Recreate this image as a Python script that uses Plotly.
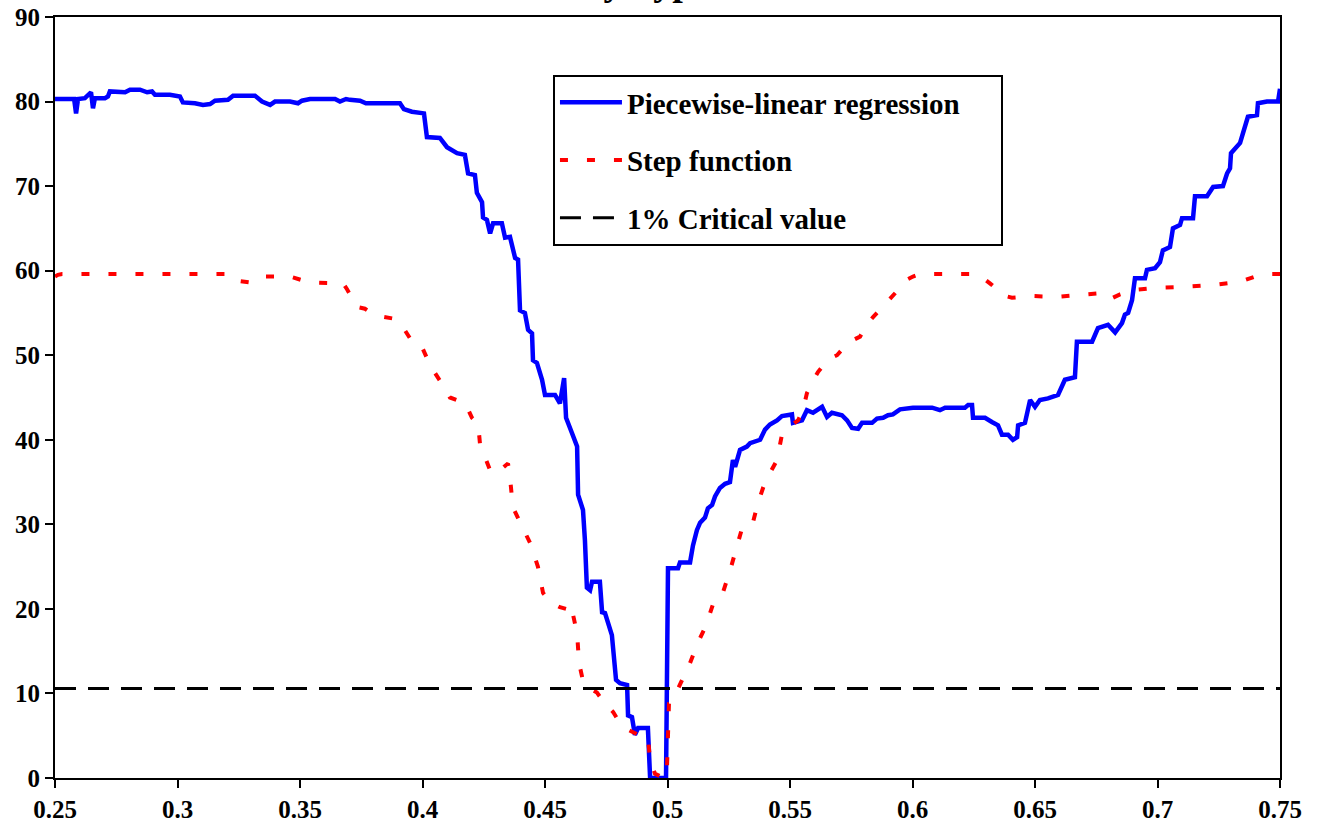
import plotly.graph_objects as go

# threshold quantile grid and LR statistics
pw_x = [0.25, 0.2561, 0.2578, 0.2586, 0.2594, 0.2622, 0.2635, 0.2647, 0.2655, 0.2663,
        0.2704, 0.2716, 0.2724, 0.2786, 0.2806, 0.2847, 0.2876, 0.2896, 0.2908, 0.2969,
        0.3010, 0.3022, 0.3071, 0.3104, 0.3133, 0.3153, 0.3206, 0.3227, 0.3316, 0.3345,
        0.3378, 0.3398, 0.3459, 0.3492, 0.3508, 0.3541, 0.3643, 0.3663, 0.3688, 0.3704,
        0.3745, 0.3769, 0.3908, 0.3924, 0.3957, 0.3990, 0.4006, 0.4018, 0.4071, 0.4100,
        0.4141, 0.4173, 0.4186, 0.4214, 0.4222, 0.4243, 0.4247, 0.4263, 0.4276, 0.4288,
        0.4324, 0.4337, 0.4357, 0.4378, 0.4390, 0.4398, 0.4418, 0.4431, 0.4447, 0.4451,
        0.4467, 0.4488, 0.4500, 0.4541, 0.4561, 0.4578, 0.4586, 0.4610, 0.4631, 0.4635,
        0.4655, 0.4663, 0.4671, 0.4684, 0.4692, 0.4724, 0.4733, 0.4745, 0.4773, 0.4790,
        0.4806, 0.4835, 0.4839, 0.4855, 0.4867, 0.4880, 0.4920, 0.4929, 0.4994, 0.5002,
        0.5043, 0.5051, 0.5092, 0.5104, 0.5120, 0.5133, 0.5153, 0.5165, 0.5182, 0.5194,
        0.5214, 0.5235, 0.5255, 0.5267, 0.5276, 0.5296, 0.5324, 0.5337, 0.5378, 0.5398,
        0.5418, 0.5447, 0.5467, 0.5508, 0.5512, 0.5549, 0.5569, 0.5594, 0.5631, 0.5651,
        0.5671, 0.5712, 0.5733, 0.5753, 0.5778, 0.5794, 0.5835, 0.5855, 0.5880, 0.5900,
        0.5920, 0.5949, 0.6002, 0.6080, 0.6112, 0.6133, 0.6214, 0.6227, 0.6243, 0.6247,
        0.6296, 0.6324, 0.6349, 0.6365, 0.6390, 0.6410, 0.6427, 0.6431, 0.6459, 0.6480,
        0.6500, 0.6520, 0.6553, 0.6594, 0.6622, 0.6663, 0.6671, 0.6733, 0.6745, 0.6757,
        0.6798, 0.6827, 0.6855, 0.6867, 0.6880, 0.6896, 0.6908, 0.6949, 0.6957, 0.6990,
        0.7010, 0.7022, 0.7051, 0.7063, 0.7092, 0.7100, 0.7145, 0.7153, 0.7202, 0.7227,
        0.7267, 0.7284, 0.7296, 0.7300, 0.7337, 0.7349, 0.7369, 0.7406, 0.7410, 0.7447,
        0.7492, 0.75]
pw_lr = [80.3, 80.4, 80.3, 78.6, 80.3, 80.4, 80.8, 81.1, 79.2, 80.4,
         80.4, 80.6, 81.2, 81.1, 81.4, 81.4, 81.1, 81.2, 80.8, 80.8,
         80.6, 79.9, 79.8, 79.6, 79.7, 80.1, 80.2, 80.7, 80.7, 80.0,
         79.6, 80.0, 80.0, 79.8, 80.1, 80.3, 80.3, 80.0, 80.3, 80.2,
         80.1, 79.8, 79.8, 79.1, 78.8, 78.6, 78.6, 75.8, 75.7, 74.6,
         73.9, 73.7, 71.5, 71.3, 69.2, 68.1, 66.3, 66.0, 64.4, 65.6,
         65.6, 63.9, 64.0, 61.5, 61.3, 55.3, 55.0, 53.0, 52.6, 49.4,
         49.1, 47.1, 45.3, 45.3, 44.3, 47.3, 42.6, 40.8, 39.2, 33.5,
         31.7, 28.1, 22.5, 22.2, 23.2, 23.2, 19.6, 19.5, 16.9, 11.6,
         11.2, 11.0, 7.4, 7.2, 5.1, 5.9, 5.9, 0.0, 0.0, 24.8,
         24.8, 25.5, 25.5, 27.5, 29.3, 30.2, 30.8, 31.9, 32.3, 33.3,
         34.3, 34.8, 35.0, 37.6, 36.8, 38.8, 39.2, 39.6, 40.0, 41.2,
         41.8, 42.3, 42.8, 43.0, 42.0, 42.3, 43.5, 43.2, 43.9, 42.7,
         43.2, 42.9, 42.3, 41.4, 41.3, 42.0, 42.0, 42.5, 42.6, 42.9,
         43.0, 43.6, 43.8, 43.8, 43.5, 43.8, 43.8, 44.1, 44.1, 42.6,
         42.6, 42.1, 41.7, 40.6, 40.6, 40.0, 40.3, 41.7, 42.0, 44.7,
         43.9, 44.7, 44.9, 45.3, 47.1, 47.4, 51.6, 51.6, 52.4, 53.2,
         53.6, 52.7, 53.8, 54.8, 55.0, 56.5, 59.1, 59.1, 60.1, 60.3,
         61.0, 62.4, 62.8, 65.0, 65.4, 66.2, 66.2, 68.8, 68.8, 69.9,
         70.0, 71.5, 72.1, 73.9, 75.1, 76.4, 78.2, 78.4, 79.8, 80.0,
         80.0, 81.5]

step_x = [0.25, 0.2512, 0.2529, 0.3214, 0.3243, 0.3296, 0.3329, 0.3345, 0.3459, 0.3541,
          0.3676, 0.3692, 0.3733, 0.3765, 0.3806, 0.3847, 0.3888, 0.3916, 0.3949, 0.3990,
          0.4031, 0.4071, 0.4112, 0.4141, 0.4173, 0.4202, 0.4227, 0.4235, 0.4276, 0.4288,
          0.4316, 0.4349, 0.4357, 0.4369, 0.4398, 0.4439, 0.4471, 0.4492, 0.4520, 0.4561,
          0.4586, 0.4602, 0.4610, 0.4631, 0.4639, 0.4655, 0.4671, 0.4712, 0.4745, 0.4778,
          0.4806, 0.4839, 0.4888, 0.4920, 0.4929, 0.4949, 0.4978, 0.4990, 0.4998, 0.5002,
          0.5006, 0.5018, 0.5051, 0.5092, 0.5124, 0.5157, 0.5194, 0.5227, 0.5255, 0.5284,
          0.5304, 0.5345, 0.5369, 0.5398, 0.5418, 0.5447, 0.5467, 0.5500, 0.5533, 0.5553,
          0.5569, 0.5590, 0.5614, 0.5655, 0.5692, 0.5737, 0.5786, 0.5818, 0.5839, 0.5880,
          0.5920, 0.5949, 0.5982, 0.6002, 0.6031, 0.6235, 0.6276, 0.6316, 0.6357, 0.6378,
          0.6406, 0.6488, 0.6590, 0.6704, 0.6798, 0.6818, 0.6847, 0.6900, 0.7010, 0.7120,
          0.7227, 0.7337, 0.7398, 0.7447, 0.75]
step_lr = [59.3, 59.5, 59.6, 59.6, 58.8, 58.6, 58.9, 59.3, 59.3, 58.6,
           58.5, 57.8, 55.7, 55.5, 54.7, 54.5, 54.3, 53.5, 52.0, 51.5,
           48.8, 47.0, 45.0, 44.7, 44.4, 42.6, 41.9, 39.4, 36.4, 36.8,
           36.4, 37.2, 35.6, 32.0, 30.3, 27.8, 25.0, 21.9, 20.8, 20.2,
           20.0, 20.6, 19.9, 17.1, 13.6, 11.5, 10.8, 10.1, 8.8, 7.8,
           6.5, 5.7, 5.0, 4.8, 2.1, 0.5, 0.1, 0.0, 1.3, 5.3,
           8.8, 9.0, 11.0, 13.6, 16.0, 18.0, 21.3, 22.0, 24.5, 27.5,
           29.5, 29.8, 32.5, 35.0, 36.0, 37.6, 40.6, 41.6, 42.3, 43.5,
           45.5, 46.8, 48.0, 49.5, 50.0, 51.5, 52.2, 53.8, 54.5, 55.8,
           57.1, 58.0, 59.0, 59.3, 59.6, 59.6, 59.4, 58.5, 57.6, 57.0,
           56.8, 57.0, 56.9, 57.2, 57.4, 56.8, 57.2, 57.7, 58.0, 58.1,
           58.3, 58.7, 59.3, 59.6, 59.6]

crit_x = [0.25, 0.75]
crit_lr = [10.59, 10.59]

x_ticks = [0.25, 0.3, 0.35, 0.4, 0.45, 0.5, 0.55, 0.6, 0.65, 0.7, 0.75]
x_labels = ["0.25", "0.3", "0.35", "0.4", "0.45", "0.5", "0.55", "0.6", "0.65", "0.7", "0.75"]
y_ticks = [0, 10, 20, 30, 40, 50, 60, 70, 80, 90]

SERIF = "Liberation Serif"
PAD = "\u00a0" * 5  # widens the legend box on the right like the original

fig = go.Figure()
fig.add_trace(go.Scatter(x=pw_x, y=pw_lr, mode="lines",
                         name="<b>Piecewise-linear regression</b>" + PAD,
                         legendgroup="a", line=dict(color="#0000FF", width=4.5)))
fig.add_trace(go.Scatter(x=step_x, y=step_lr, mode="lines", name="<b>Step function</b>",
                         legendgroup="b", line=dict(color="#FF0000", width=4, dash="8px,19px")))
fig.add_trace(go.Scatter(x=crit_x, y=crit_lr, mode="lines", name="<b>1% Critical value</b>",
                         legendgroup="c", line=dict(color="#000000", width=3, dash="21px,12px")))

# title sits mostly above the visible page, as in the original export
fig.add_annotation(text="<b>Likelihood ratio by hypothesized threshold</b>",
                   xref="paper", yref="paper", x=0.4922, y=1.0158,
                   xanchor="center", yanchor="bottom", showarrow=False,
                   font=dict(family=SERIF, size=38, color="black"))

fig.update_layout(
    width=1323, height=835,
    margin=dict(l=55, r=43, t=17, b=57, autoexpand=False),
    paper_bgcolor="white", plot_bgcolor="white",
    font=dict(family=SERIF, color="black"),
    showlegend=True,
    legend=dict(x=0.4065, y=0.9238, xanchor="left", yanchor="top",
                bgcolor="white", bordercolor="black", borderwidth=2,
                font=dict(family=SERIF, size=29, color="black"),
                itemwidth=62, traceorder="grouped", tracegroupgap=17),
)
fig.update_xaxes(range=[0.25, 0.75], tickvals=x_ticks,
                 ticktext=["<b>" + t + "</b>" for t in x_labels], automargin=False,
                 showline=True, linecolor="black", linewidth=2, mirror=True,
                 ticks="outside", ticklen=8, tickwidth=2, tickcolor="black",
                 showgrid=False, zeroline=False,
                 tickfont=dict(family=SERIF, size=25, color="black"))
fig.update_yaxes(range=[0, 90], tickvals=y_ticks,
                 ticktext=["<b>%d</b>" % v for v in y_ticks], automargin=False,
                 showline=True, linecolor="black", linewidth=2, mirror=True,
                 ticks="outside", ticklen=8, tickwidth=2, tickcolor="black",
                 showgrid=False, zeroline=False,
                 tickfont=dict(family=SERIF, size=25, color="black"))

fig.write_html("out.html", config={"displayModeBar": False},
               post_script="document.body.style.margin='0px';")
